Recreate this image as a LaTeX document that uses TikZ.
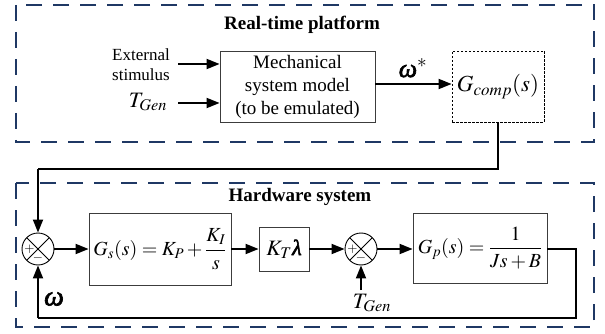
\documentclass[tikz,border=0pt]{standalone}
\usepackage{amsmath}
\usepackage{mathptmx}
\usepackage{fontspec}
\setmainfont{Liberation Serif}
\newfontfamily\bgrk[FakeBold=2.5]{Liberation Serif}
\usetikzlibrary{arrows.meta,calc}
\definecolor{frameblue}{RGB}{31,56,100}
\definecolor{boxgray}{RGB}{60,60,60}
\tikzset{
  frame/.style={draw=frameblue, line width=1.6pt, dash pattern=on 16pt off 11pt},
  blk/.style={draw=boxgray, line width=0.8pt, fill=white, inner sep=0pt, align=center},
  dblk/.style={blk, draw=black, dash pattern=on 2.5pt off 1.5pt},
  sig/.style={line width=1.8pt, -{Triangle[length=13pt,width=10pt]}},
  wire/.style={line width=1.8pt},
  sumj/.style={circle, draw=black, line width=0.9pt, minimum size=32pt, inner sep=0pt,
    path picture={\draw[line width=0.9pt] (path picture bounding box.north west) -- (path picture bounding box.south east)
      (path picture bounding box.north east) -- (path picture bounding box.south west);}},
  ttl/.style={font=\fontsize{19}{22}\selectfont\bfseries},
  txt/.style={font=\fontsize{19}{23}\selectfont, align=center},
  stxt/.style={font=\fontsize{17}{20}\selectfont, align=center},
  sgn/.style={font=\fontsize{13}{13}\selectfont, inner sep=0pt},
}
\begin{document}
\begin{tikzpicture}[x=1pt,y=-1pt]
\useasboundingbox (0,0) rectangle (605,334);
% frames
\draw[frame] (16,5) rectangle (594,142);
\draw[frame] (16,183) rectangle (594,327);
\node[ttl] (t1) at (302,25) {Real-time platform};
\node[ttl] (t2) at (300,197) {Hardware system};
% top part
\node[blk, txt, minimum width=155pt, minimum height=71pt] (mech) at (297.5,86.5)
  {Mechanical\\system model\\(to be emulated)};
\node[dblk, minimum width=92pt, minimum height=71pt, font=\fontsize{23}{26}\selectfont] (gc) at (498,86.5)
  {$G_{comp}(s)$};
\node[stxt] (ext) at (141,65) {External\\stimulus};
\node[font=\fontsize{22}{24}\selectfont] (tg1) at (148,102) {$T_{Gen}$};
\coordinate (e1) at (178,64);
\coordinate (e2) at (178,103);
\draw[sig] (e1) -- (e1 -| mech.west);
\draw[sig] (e2) -- (e2 -| mech.west);
\draw[sig] (mech.east |- 0,84) -- (gc.west |- 0,84);
\node[font=\fontsize{26}{26}\selectfont, inner sep=1pt] (wst) at (413,68) {{\bgrk\itshape ω}$^{*}$};
% bottom part
\node[sumj] (s1) at (38,249) {};
\node[sumj] (s2) at (361,249) {};
\node[sgn] (p1) at ($(s1)+(-8.5,0)$) {$+$};
\node[sgn] (m1) at ($(s1)+(0,9.5)$) {$-$};
\node[sgn] (p2) at ($(s2)+(-8.5,0)$) {$+$};
\node[sgn] (m2) at ($(s2)+(0,9.5)$) {$-$};
\node[blk, minimum width=142pt, minimum height=72pt, font=\fontsize{20}{24}\selectfont] (gs) at (160,249)
  {$G_s(s)=K_P+\dfrac{K_I}{s}$};
\node[blk, minimum width=50pt, minimum height=44pt, font=\fontsize{22}{24}\selectfont] (kt) at (284,249)
  {$K_T${\bgrk\itshape λ}};
\node[blk, minimum width=134pt, minimum height=70pt, font=\fontsize{20}{24}\selectfont] (gp) at (480,248)
  {$G_p(s)=\dfrac{1}{Js+B}$};
\draw[sig] (s1.east) -- (gs.west |- s1.east);
\draw[sig] (gs.east |- kt.west) -- (kt.west);
\draw[sig] (kt.east) -- (s2.west);
\draw[sig] (s2.east) -- (gp.west |- s2.east);
\node[font=\fontsize{22}{24}\selectfont] (tg2) at (372,303) {$T_{Gen}$};
\coordinate (tga) at (361,290);
\draw[sig] (tga) -- (s2.south);
% connection from Gcomp to s1
\coordinate (c1) at (498,169);
\coordinate (c2) at (38,169);
\draw[wire] (gc.south) -- (c1) -- (c2);
\draw[sig] (c2) -- (s1.north);
% feedback
\coordinate (f1) at (576,249);
\coordinate (f2) at (576,318);
\coordinate (f3) at (38,318);
\draw[wire] (gp.east |- f1) -- (f1) -- (f2) -- (f3);
\draw[sig] (f3) -- (s1.south);
\node[font=\fontsize{28}{28}\selectfont] (w) at (54,299) {{\bgrk\itshape ω}};
\end{tikzpicture}
\end{document}
